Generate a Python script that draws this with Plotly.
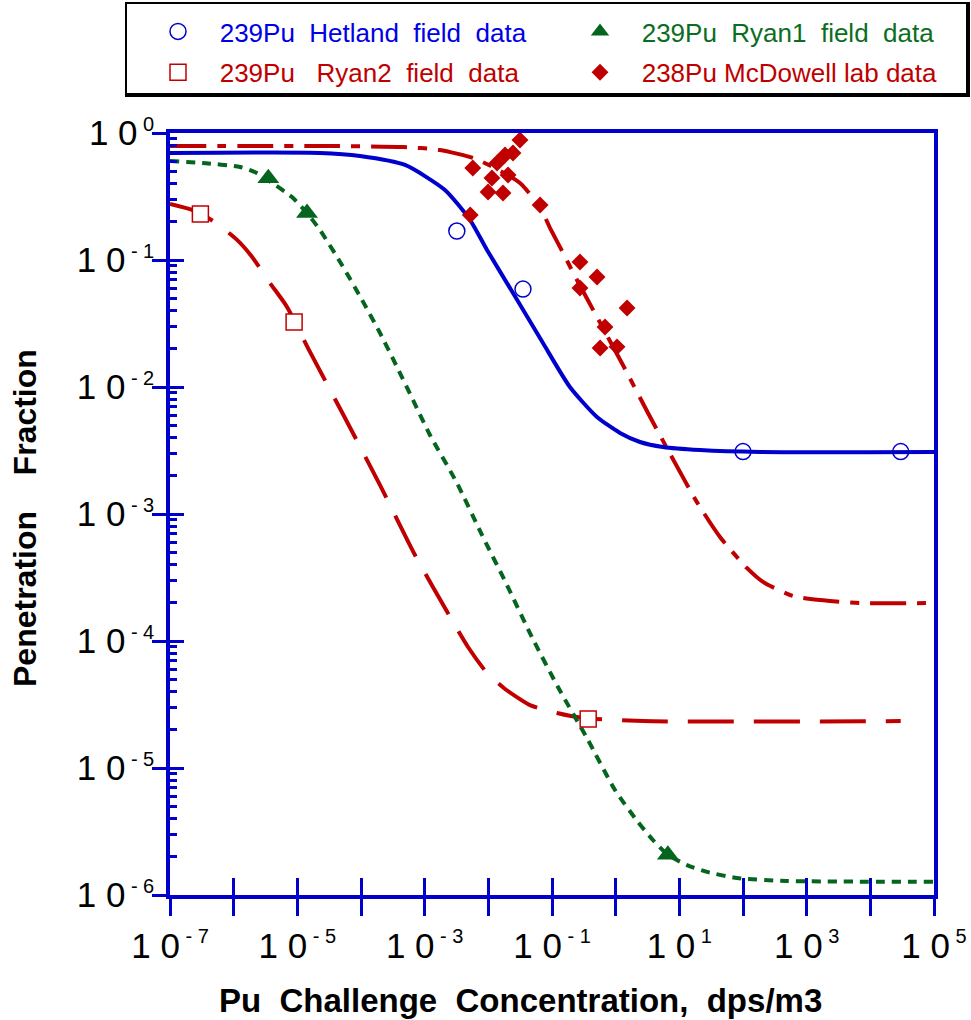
import plotly.graph_objects as go

# ---------------- data ----------------
# measured points
hetland_x = [3.2e-3, 0.035, 100, 3.0e4]
hetland_y = [0.169, 0.059, 0.0031, 0.0031]

ryan1_x = [3.5e-6, 1.42e-5, 6.6]
ryan1_y = [0.44, 0.234, 2.07e-6]

ryan2_x = [3.0e-7, 8.9e-6, 0.37]
ryan2_y = [0.23, 0.0325, 2.43e-5]

mcd_x = [5.7e-3, 5.2e-3, 9.9e-3, 0.0114, 0.0137, 0.0183, 0.0244, 0.0314, 0.0204,
         0.017, 0.065, 0.275, 0.51, 0.275, 1.51, 0.68, 0.57, 1.05]
mcd_y = [0.53, 0.226, 0.343, 0.442, 0.58, 0.671, 0.696, 0.88, 0.467,
         0.337, 0.271, 0.0964, 0.0735, 0.0602, 0.0419, 0.0297, 0.0203, 0.0207]

# fitted curves
hetland_fit_x = [1e-7, 2.27e-5, 9.64e-5, 4.91e-4, 2.08e-3, 5.15e-3, 9.53e-3, 0.0244,
                 0.0721, 0.191, 0.508, 1.17, 2.41, 5.53, 21.1, 185, 1e5]
hetland_fit_y = [0.697, 0.697, 0.659, 0.560, 0.356, 0.207, 0.120, 0.0550,
                 0.0222, 0.0100, 0.00581, 0.00435, 0.00369, 0.00337, 0.00319, 0.00308, 0.00308]

mcd_fit_x = [1e-7, 2.27e-5, 4.57e-4, 1.74e-3, 5.74e-3, 0.0118, 0.0314, 0.0647, 0.0929,
             0.133, 0.247, 0.508, 1.30, 3.22, 6.64, 18.9, 43.5, 115, 206, 610, 1620, 6870, 1e5]
mcd_fit_y = [0.790, 0.790, 0.776, 0.735, 0.636, 0.540, 0.404, 0.261, 0.179,
             0.127, 0.0696, 0.0356, 0.0149, 0.00624, 0.00319, 0.00124, 6.59e-4, 3.76e-4,
             2.92e-4, 2.26e-4, 2.10e-4, 1.99e-4, 1.99e-4]

ryan1_fit_x = [1e-7, 3.30e-7, 1.26e-6, 2.32e-6, 3.46e-6, 8.24e-6, 1.42e-5, 2.27e-5, 5.02e-5,
               1.04e-4, 1.99e-4, 3.67e-4, 6.56e-4, 1.21e-3, 3.22e-3, 7.94e-3, 0.0196, 0.0485,
               0.124, 0.354, 0.975, 2.24, 3.85, 6.64, 13.2, 27.2, 80.4, 491, 1e5]
ryan1_fit_y = [0.602, 0.580, 0.540, 0.484, 0.426, 0.313, 0.234, 0.172, 0.0914,
               0.0484, 0.0266, 0.0144, 0.00790, 0.00419, 0.00175, 6.84e-4, 2.76e-4, 1.07e-4,
               4.34e-5, 1.72e-5, 6.71e-6, 3.76e-6, 2.71e-6, 2.07e-6, 1.72e-6, 1.52e-6, 1.36e-6,
               1.29e-6, 1.27e-6]

ryan2_fit_x = [1e-7, 2.22e-7, 4.73e-7, 1.13e-6, 1.94e-6, 3.72e-6, 6.89e-6, 1.58e-5, 5.61e-5,
               1.99e-4, 7.05e-4, 2.79e-3, 4.79e-3, 9.53e-3, 0.0183, 0.0451, 0.120, 0.306, 2.69, 3.0e4]
ryan2_fit_y = [0.276, 0.248, 0.203, 0.144, 0.106, 0.0659, 0.0427, 0.0189, 0.00570,
               0.00169, 4.75e-4, 1.41e-4, 8.97e-5, 5.60e-5, 4.19e-5, 3.13e-5, 2.71e-5, 2.48e-5,
               2.34e-5, 2.34e-5]

x_exponents = list(range(-7, 6))
x_label_exponents = [e for e in x_exponents if e % 2 != 0]
x_plain_exponents = [e for e in x_exponents if e % 2 == 0]
y_exponents = list(range(-6, 1))

# ---------------- styling ----------------
BLUE = "#0000CD"
RED = "#C00000"
GREEN = "#05641E"
FONT = "Liberation Sans, Arial, sans-serif"

W, H = 971, 1020
L, R, T, B = 170, 934, 133, 895  # plot area in pixels


def px_x(p):
    return (p - L) / (R - L)


def px_y(p):
    return (B - p) / (B - T)


def sup_label(e):
    s = f"- {-e}" if e < 0 else f"{e}"
    return f'1 0<sup><span style="font-size:20px">\u00a0{s}</span></sup>'


fig = go.Figure()

line_common = dict(width=4, shape="spline", smoothing=0.6)
fig.add_trace(go.Scatter(x=ryan2_fit_x, y=ryan2_fit_y, mode="lines", showlegend=False, hoverinfo="skip",
                         line=dict(color=RED, dash="46px,20px", **line_common)))
fig.add_trace(go.Scatter(x=ryan1_fit_x, y=ryan1_fit_y, mode="lines", showlegend=False, hoverinfo="skip",
                         line=dict(color=GREEN, dash="9px,7px", **line_common)))
fig.add_trace(go.Scatter(x=mcd_fit_x, y=mcd_fit_y, mode="lines", showlegend=False, hoverinfo="skip",
                         line=dict(color=RED, dash="36px,11px,9px,11px", **line_common)))
fig.add_trace(go.Scatter(x=hetland_fit_x, y=hetland_fit_y, mode="lines", showlegend=False, hoverinfo="skip",
                         line=dict(color=BLUE, **line_common)))

NB = "\u00a0\u00a0\u00a0"
fig.add_trace(go.Scatter(
    x=hetland_x, y=hetland_y, mode="markers", xaxis="x2", yaxis="y2",
    name=f'<span style="color:#0000E6">{NB}239Pu  Hetland  field  data</span>',
    marker=dict(symbol="circle-open", size=16, color=BLUE, line=dict(width=1.5, color=BLUE)),
    legend="legend", legendgroup="a"))
fig.add_trace(go.Scatter(
    x=ryan2_x, y=ryan2_y, mode="markers",
    name=f'<span style="color:{RED}">{NB}239Pu   Ryan2  field  data</span>',
    marker=dict(symbol="square", size=16, color="white", line=dict(width=1.5, color=RED)),
    legend="legend", legendgroup="b"))
fig.add_trace(go.Scatter(
    x=ryan1_x, y=ryan1_y, mode="markers",
    name=f'<span style="color:#0B6E1F">{NB}239Pu  Ryan1  field  data</span>',
    marker=dict(symbol="triangle-up", size=19, color=GREEN),
    legend="legend2", legendgroup="c"))
fig.add_trace(go.Scatter(
    x=mcd_x, y=mcd_y, mode="markers",
    name=f'<span style="color:{RED}">{NB}238Pu McDowell lab data</span>',
    marker=dict(symbol="diamond", size=13, color=RED),
    legend="legend2", legendgroup="d"))

tick_font = dict(family=FONT, size=35, color="black")

fig.update_layout(
    template="none",
    width=W, height=H,
    margin=dict(l=L, r=W - R, t=T, b=H - B, autoexpand=False),
    paper_bgcolor="white", plot_bgcolor="white",
    font=dict(family=FONT, color="black"),
    xaxis=dict(type="log", range=[-7, 5], showgrid=False, zeroline=False,
               showline=True, mirror=True, linecolor=BLUE, linewidth=3.5,
               tickmode="array", tickvals=[10.0 ** e for e in x_label_exponents],
               ticktext=[sup_label(e) for e in x_label_exponents],
               ticks="outside", ticklen=17, tickwidth=3, tickcolor=BLUE,
               minor=dict(tickmode="array", tickvals=[10.0 ** e for e in x_plain_exponents],
                          ticks="outside", ticklen=17, tickwidth=3, tickcolor=BLUE, showgrid=False),
               tickfont=tick_font, automargin=False),
    xaxis2=dict(type="log", range=[-7, 5], overlaying="x", anchor="y", side="bottom",
                showgrid=False, zeroline=False, showline=False, showticklabels=False,
                tickmode="array", tickvals=[10.0 ** e for e in x_exponents],
                ticks="inside", ticklen=17, tickwidth=3, tickcolor=BLUE, automargin=False),
    yaxis=dict(type="log", range=[-6, 0], showgrid=False, zeroline=False,
               showline=True, mirror=True, linecolor=BLUE, linewidth=3.5,
               tickmode="array", tickvals=[10.0 ** e for e in y_exponents],
               ticktext=[sup_label(e) for e in y_exponents],
               ticks="outside", ticklen=14, tickwidth=3, tickcolor=BLUE,
               ticklabelstandoff=-9,
               tickfont=tick_font, automargin=False),
    yaxis2=dict(type="log", range=[-6, 0], overlaying="y", anchor="x", side="left",
                showgrid=False, zeroline=False, showline=False, showticklabels=False,
                tickmode="array", tickvals=[10.0 ** e for e in y_exponents],
                ticks="inside", ticklen=14, tickwidth=3, tickcolor=BLUE,
                minor=dict(tickmode="array",
                           tickvals=[m * 10.0 ** e for e in y_exponents[:-1] for m in range(2, 10)],
                           ticks="inside", ticklen=7, tickwidth=3, tickcolor=BLUE, showgrid=False),
                automargin=False),
    legend=dict(x=px_x(158), y=px_y(8), xanchor="left", yanchor="top",
                xref="paper", yref="paper", orientation="v",
                bgcolor="rgba(0,0,0,0)", borderwidth=0, traceorder="grouped", tracegroupgap=4,
                font=dict(family=FONT, size=26)),
    legend2=dict(x=px_x(580), y=px_y(8), xanchor="left", yanchor="top",
                 xref="paper", yref="paper", orientation="v",
                 bgcolor="rgba(0,0,0,0)", borderwidth=0, traceorder="grouped", tracegroupgap=4,
                 font=dict(family=FONT, size=26)),
    shapes=[
        dict(type="rect", xref="paper", yref="paper", layer="above",
             x0=px_x(125), x1=px_x(970), y0=px_y(97), y1=px_y(2),
             fillcolor="black", line=dict(width=0)),
        dict(type="rect", xref="paper", yref="paper", layer="above",
             x0=px_x(127), x1=px_x(966), y0=px_y(93), y1=px_y(4),
             fillcolor="white", line=dict(width=0)),
    ],
    annotations=[
        dict(text="<b>Pu  Challenge  Concentration,  dps/m3</b>", xref="paper", yref="paper",
             x=px_x(520), y=px_y(1000), xanchor="center", yanchor="middle", showarrow=False,
             font=dict(family=FONT, size=33, color="black")),
        dict(text="<b>Penetration    Fraction</b>", xref="paper", yref="paper",
             x=px_x(25), y=px_y(518), xanchor="center", yanchor="middle", showarrow=False,
             textangle=-90, font=dict(family=FONT, size=32, color="black")),
    ],
)

fig.write_html("out.html",
               config={"displayModeBar": False},
               post_script="document.body.style.margin='0';document.body.style.padding='0';"
                           "document.documentElement.style.overflow='hidden';")
